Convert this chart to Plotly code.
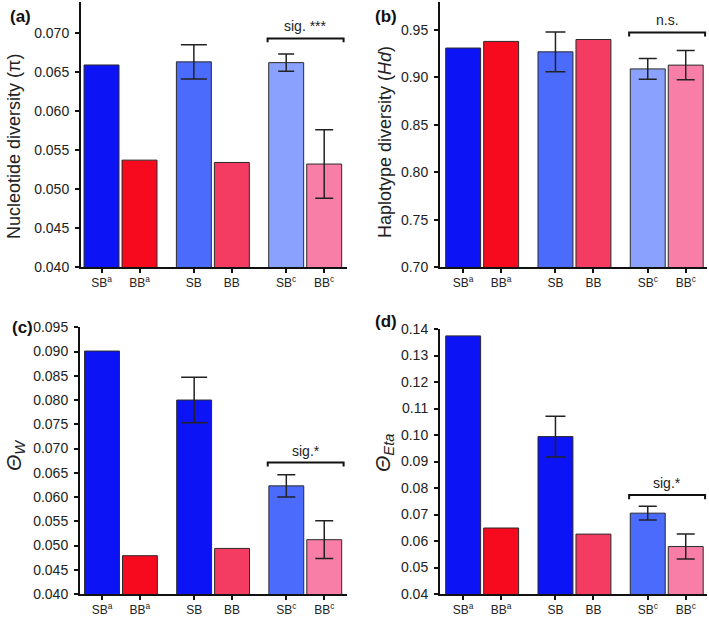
import plotly.graph_objects as go

# ---------------- data ----------------
labels = ["SB<sup>a</sup>", "BB<sup>a</sup>", "SB", "BB", "SB<sup>c</sup>", "BB<sup>c</sup>"]
group_index = [0, 0, 1, 1, 2, 2]
member_index = [0, 1, 0, 1, 0, 1]

pi_vals = [0.0659, 0.0537, 0.0663, 0.0534, 0.0662, 0.0532]
pi_err = [None, None, 0.0022, None, 0.0011, 0.0044]

hd_vals = [0.931, 0.938, 0.927, 0.940, 0.909, 0.913]
hd_err = [None, None, 0.021, None, 0.011, 0.0155]

tw_vals = [0.0901, 0.0479, 0.0800, 0.0494, 0.0623, 0.0512]
tw_err = [None, None, 0.0047, None, 0.0023, 0.0039]

te_vals = [0.1374, 0.0649, 0.0994, 0.0626, 0.0705, 0.0579]
te_err = [None, None, 0.0077, None, 0.0026, 0.0047]

sig_text = ["sig. ***", "n.s.", "sig.*", "sig.*"]
sig_level = [0.0693, 0.9475, 0.0671, 0.0774]
sig_drop = [0.0005, 0.0042, 0.0008, 0.0016]

panel_letters = ["(a)", "(b)", "(c)", "(d)"]
yticks_a = [0.040, 0.045, 0.050, 0.055, 0.060, 0.065, 0.070]
yticks_b = [0.70, 0.75, 0.80, 0.85, 0.90, 0.95]
yticks_c = [0.040, 0.045, 0.050, 0.055, 0.060, 0.065, 0.070, 0.075, 0.080, 0.085, 0.090, 0.095]
yticks_d = [0.04, 0.05, 0.06, 0.07, 0.08, 0.09, 0.10, 0.11, 0.12, 0.13, 0.14]

# ---------------- styles ----------------
DBLUE = "#0c14f6"
RED = "#f70a1e"
MBLUE = "#4b6bfd"
ROSE = "#f43c63"
LBLUE = "#8aa2fd"
PINK = "#f87ea8"
colors_top = [DBLUE, RED, MBLUE, ROSE, LBLUE, PINK]
colors_bot = [DBLUE, RED, DBLUE, ROSE, MBLUE, PINK]
cap_a = [0, 0, 13, 0, 8, 9]
cap_b = [0, 0, 10, 0, 9, 9]
cap_c = [0, 0, 13, 0, 9, 9]
cap_d = [0, 0, 10, 0, 9, 9]

FONT = "Arial, Liberation Sans, Helvetica, sans-serif"
W, H = 709, 619
GROUP_GAP = 2.43
BAR_W = 0.92

xpos = [g * GROUP_GAP + m for g, m in zip(group_index, member_index)]


def px_x(p):
    return p / W


def px_y(p):
    return 1 - p / H


panels = [
    dict(vals=pi_vals, err=pi_err, cols=colors_top, caps=cap_a, ticks=yticks_a, fmt=".3f",
         yr=[0.040, 0.074], xd=[81, 347], yd=[267, 1.8], xr=[-0.54, 6.46]),
    dict(vals=hd_vals, err=hd_err, cols=colors_top, caps=cap_b, ticks=yticks_b, fmt=".2f",
         yr=[0.70, 0.98], xd=[440, 707], yd=[267, 1.6], xr=[-0.61, 6.42]),
    dict(vals=tw_vals, err=tw_err, cols=colors_bot, caps=cap_c, ticks=yticks_c, fmt=".3f",
         yr=[0.040, 0.095], xd=[80, 347], yd=[594, 327.3], xr=[-0.58, 6.46]),
    dict(vals=te_vals, err=te_err, cols=colors_bot, caps=cap_d, ticks=yticks_d, fmt=".2f",
         yr=[0.04, 0.14], xd=[440, 707], yd=[594, 329], xr=[-0.61, 6.42]),
]

fig = go.Figure()
layout = dict(
    width=W, height=H, margin=dict(l=0, r=0, t=0, b=0, pad=0, autoexpand=False),
    paper_bgcolor="white", plot_bgcolor="white", showlegend=False,
    font=dict(family=FONT, color="#222", size=12),
    template="none",
)

for i, p in enumerate(panels):
    n = "" if i == 0 else str(i + 1)
    xa, ya = "x" + n, "y" + n
    for j in range(len(labels)):
        e = p["err"][j]
        fig.add_trace(go.Bar(
            x=[xpos[j]], y=[p["vals"][j]], width=BAR_W, xaxis=xa, yaxis=ya,
            marker=dict(color=p["cols"][j], line=dict(color="#2a2a2a", width=1)),
            error_y=dict(type="data", array=[e], visible=e is not None,
                         color="#222", thickness=1.5, width=p["caps"][j]),
        ))
    # significance bracket
    x0 = xpos[4] - BAR_W / 2 - 0.03
    x1 = xpos[5] + BAR_W / 2 + 0.05
    y, d = sig_level[i], sig_drop[i]
    fig.add_trace(go.Scatter(x=[x0, x0, x1, x1], y=[y - d, y, y, y - d], mode="lines",
                             line=dict(color="#111", width=2), xaxis=xa, yaxis=ya,
                             hoverinfo="skip", cliponaxis=False))
    layout["xaxis" + n] = dict(
        domain=[px_x(p["xd"][0]), px_x(p["xd"][1])], range=p["xr"], anchor=ya,
        tickmode="array", tickvals=xpos, ticktext=labels, automargin=False,
        showline=True, linecolor="#111", linewidth=2, ticks="outside", ticklen=4,
        tickwidth=1.5, tickcolor="#111", showgrid=False, zeroline=False,
        tickfont=dict(size=12, family=FONT, color="#222"), fixedrange=True,
    )
    layout["yaxis" + n] = dict(
        domain=[px_y(p["yd"][0]), px_y(p["yd"][1])], range=p["yr"], anchor=xa,
        tickmode="array", tickvals=p["ticks"], tickformat=p["fmt"], automargin=False,
        showline=True, linecolor="#111", linewidth=2, ticks="outside", ticklen=4,
        tickwidth=1.5, tickcolor="#111", showgrid=False, zeroline=False,
        tickfont=dict(size=14, family=FONT, color="#222"), ticklabelstandoff=3,
        fixedrange=True,
    )
    fig.add_annotation(x=(x0 + x1) / 2, y=y, xref=xa, yref=ya, text=sig_text[i],
                       showarrow=False, xanchor="center", yanchor="bottom", yshift=2,
                       font=dict(size=14, family=FONT, color="#222"))

fig.update_layout(**layout)

# panel letters
letter_pos = [(20, 16), (386, 17), (22, 327), (386, 321)]
for t, (lx, ly) in zip(panel_letters, letter_pos):
    fig.add_annotation(x=px_x(lx), y=px_y(ly), xref="paper", yref="paper",
                       text="<b>" + t + "</b>", showarrow=False,
                       xanchor="center", yanchor="middle",
                       font=dict(size=17, family=FONT, color="#111"))

# axis titles
titles = [
    ("Nucleotide diversity (π)", 14, 147, 18),
    ("Haplotype diversity (<i>Hd</i>)", 385, 142, 18),
    ("<i>Θ</i><sub><i>W</i></sub>", 15, 455, 21),
    ("<i>Θ</i><sub><i>Eta</i></sub>", 384, 453, 21),
]
for t, tx, ty, fs in titles:
    fig.add_annotation(x=px_x(tx), y=px_y(ty), xref="paper", yref="paper", text=t,
                       textangle=-90, showarrow=False, xanchor="center", yanchor="middle",
                       font=dict(size=fs, family=FONT, color="#222"))

fig.write_html("out.html", config={"displayModeBar": False},
               post_script="document.body.style.margin='0px';")
